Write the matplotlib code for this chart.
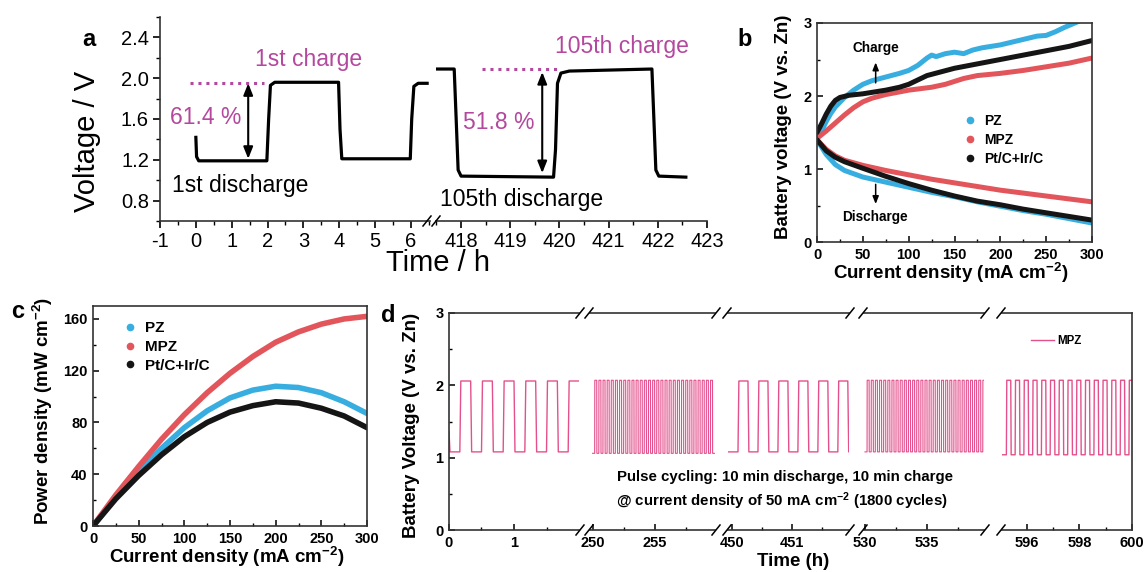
import numpy as np
import matplotlib
matplotlib.use('Agg')
import matplotlib.pyplot as plt
from matplotlib.lines import Line2D
from matplotlib.ticker import AutoMinorLocator, FixedLocator

plt.rcParams['font.family'] = ['Liberation Sans', 'DejaVu Sans']
plt.rcParams['mathtext.fontset'] = 'custom'
plt.rcParams['mathtext.rm'] = 'Liberation Sans:bold'
plt.rcParams['mathtext.default'] = 'rm'
plt.rcParams['axes.unicode_minus'] = False

# ---- (a) galvanostatic cycling, 1st and 105th cycle ----
t_first = [0.0, 0.02, 0.08, 1.98, 2.03, 2.08, 2.2, 3.98, 4.02, 4.07, 5.98, 6.02, 6.08, 6.2, 6.45]
v_first = [1.42, 1.23, 1.19, 1.19, 1.6, 1.93, 1.96, 1.96, 1.5, 1.21, 1.21, 1.6, 1.92, 1.95, 1.95]
t_late = [417.5, 417.86, 417.9, 417.94, 418.0, 419.88, 419.92, 419.96, 420.03, 420.2, 421.88, 421.92, 421.96, 422.02, 422.57]
v_late = [2.09, 2.09, 1.6, 1.1, 1.04, 1.03, 1.3, 1.95, 2.05, 2.07, 2.09, 1.6, 1.1, 1.04, 1.03]
eff_first, eff_late = '61.4 %', '51.8 %'

# ---- (b) polarization curves ----
j_pz_ch = [0, 5, 10, 15, 20, 30, 40, 50, 60, 75, 90, 100, 110, 120, 125, 130, 140, 150, 160, 170, 180, 200, 220, 240, 250, 260, 270, 285]
v_pz_ch = [1.42, 1.52, 1.65, 1.76, 1.85, 1.98, 2.08, 2.16, 2.21, 2.26, 2.31, 2.35, 2.42, 2.52, 2.56, 2.54, 2.58, 2.60, 2.58, 2.63, 2.66, 2.70, 2.76, 2.82, 2.83, 2.88, 2.94, 3.02]
j_mpz_ch = [0, 10, 20, 30, 40, 50, 60, 75, 100, 125, 140, 160, 175, 200, 225, 250, 275, 300]
v_mpz_ch = [1.42, 1.52, 1.63, 1.74, 1.84, 1.92, 1.97, 2.02, 2.08, 2.12, 2.16, 2.24, 2.28, 2.31, 2.35, 2.40, 2.45, 2.52]
j_pt_ch = [0, 5, 10, 15, 20, 25, 35, 50, 75, 90, 100, 110, 120, 135, 150, 175, 200, 225, 250, 275, 300]
v_pt_ch = [1.50, 1.62, 1.75, 1.86, 1.94, 1.98, 2.01, 2.03, 2.08, 2.12, 2.16, 2.22, 2.28, 2.33, 2.38, 2.44, 2.50, 2.56, 2.62, 2.68, 2.76]

j_dis = [0, 10, 20, 30, 50, 75, 100, 125, 150, 175, 200, 225, 250, 275, 300]
v_pz_dis = [1.40, 1.20, 1.06, 0.98, 0.89, 0.82, 0.75, 0.68, 0.62, 0.55, 0.49, 0.43, 0.38, 0.32, 0.26]
v_mpz_dis = [1.40, 1.27, 1.18, 1.12, 1.05, 0.98, 0.92, 0.86, 0.81, 0.76, 0.71, 0.67, 0.63, 0.59, 0.55]
v_pt_dis = [1.40, 1.25, 1.16, 1.10, 1.01, 0.90, 0.80, 0.71, 0.63, 0.56, 0.51, 0.45, 0.40, 0.35, 0.30]

# ---- (c) power density ----
j_pow = [0, 25, 50, 75, 100, 125, 150, 175, 200, 225, 250, 275, 300]
p_pz = [0, 22, 42, 60, 76, 89, 99, 105, 108, 107, 103, 96, 87]
p_mpz = [0, 24, 46, 67, 86, 103, 118, 131, 142, 150, 156, 160, 162]
p_pt = [0, 21, 39, 55, 69, 80, 88, 93, 96, 95, 91, 85, 76]

# ---- (d) pulse cycling, 10 min discharge / 10 min charge ----
half_period = 10 / 60
seg_start = [0.0, 249.97, 449.93, 530.0, 595.05]
seg_end = [2.0, 259.8, 451.95, 539.6, 600.0]
seg_v_low = [1.08, 1.06, 1.08, 1.08, 1.04]
seg_v_high = [2.06, 2.07, 2.06, 2.07, 2.07]
seg_xlim = [(0, 2.0), (249.76, 259.84), (449.93, 451.95), (529.92, 539.6), (595.05, 600)]
seg_major = [[0, 1], [250, 255], [450, 451], [530, 535], [596, 598, 600]]
seg_minor = [[0.5, 1.5], [252.5, 257.5], [450.5, 451.5], [532.5, 537.5], [595, 597, 599]]
seg_px = [(449, 579), (590, 715), (728, 849), (864, 984), (1002, 1132)]
v_first_point = 1.36

c_pz, c_mpz, c_pt = '#38aee0', '#e2565b', '#151515'
c_pink = '#e4508c'
c_mag = '#b4489e'

W, H = 1147, 572
fig = plt.figure(figsize=(W / 100, H / 100), dpi=100)


def add_ax(l, t, r, b):
    return fig.add_axes([l / W, 1 - b / H, (r - l) / W, (b - t) / H])


def fxy(x, y):
    return x / W, 1 - y / H


def slash(x, y, lw=1.1):
    (x0, y0), (x1, y1) = fxy(x - 4, y + 5), fxy(x + 4, y - 5)
    fig.add_artist(Line2D([x0, x1], [y0, y1], color='k', lw=lw))


def ftext(x, y, s, **kw):
    fig.text(*fxy(x, y), s, **kw)


# ================= panel a =================
a1 = add_ax(160, 17, 430, 221)
a2 = add_ax(436, 17, 707, 221)
for ax in (a1, a2):
    ax.set_ylim(0.6, 2.6)
    for s in ('top', 'right'):
        ax.spines[s].set_visible(False)
    for s in ('left', 'bottom'):
        ax.spines[s].set_linewidth(1.2)
        ax.spines[s].set_color('#333333')
    ax.tick_params(which='major', direction='out', length=5, width=1.2, labelsize=14.5, pad=3)
    ax.tick_params(which='minor', direction='out', length=3, width=1.0)
    ax.xaxis.set_minor_locator(AutoMinorLocator(2))

a1.plot(t_first, v_first, color='k', lw=2.3, solid_joinstyle='round')
a1.set_xlim(-1, 6.53)
a1.set_xticks(range(-1, 7))
a1.set_yticks([0.8, 1.2, 1.6, 2.0, 2.4])
a1.yaxis.set_minor_locator(AutoMinorLocator(2))
a1.plot([-0.15, 1.9], [1.95, 1.95], color=c_mag, lw=2.2, ls=(0, (1, 1.6)))
a1.annotate('', xy=(1.46, 1.95), xytext=(1.46, 1.21),
            arrowprops=dict(arrowstyle='<|-|>,head_width=0.28,head_length=0.7', color='k', lw=1.5,
                            shrinkA=0, shrinkB=0))
a1.text(1.65, 2.18, '1st charge', color=c_mag, fontsize=16.5, va='center')
a1.text(-0.72, 1.61, eff_first, color=c_mag, fontsize=16.5, va='center')
a1.text(-0.67, 0.95, '1st discharge', color='k', fontsize=16.5, va='center')

a2.plot(t_late, v_late, color='k', lw=2.3, solid_joinstyle='round')
a2.set_xlim(417.49, 423)
a2.set_xticks(range(418, 424))
a2.spines['left'].set_visible(False)
a2.set_yticks([])
a2.plot([418.43, 419.95], [2.087, 2.087], color=c_mag, lw=2.2, ls=(0, (1, 1.6)))
a2.annotate('', xy=(419.65, 2.06), xytext=(419.65, 1.07),
            arrowprops=dict(arrowstyle='<|-|>,head_width=0.28,head_length=0.7', color='k', lw=1.5,
                            shrinkA=0, shrinkB=0))
a2.text(419.91, 2.31, '105th charge', color=c_mag, fontsize=16.5, va='center')
a2.text(418.04, 1.57, eff_late, color=c_mag, fontsize=16.5, va='center')
a2.text(417.57, 0.81, '105th discharge', color='k', fontsize=16.5, va='center')
slash(427, 221)
slash(436, 221)

ftext(87, 141, 'Voltage / V', fontsize=21, rotation=90, ha='center', va='center')
ftext(438, 263, 'Time / h', fontsize=21, ha='center', va='center')
ftext(89, 40, 'a', fontsize=17, fontweight='bold', ha='center', va='center')

# ================= panel b =================
bold_ticks = dict(labelsize=10.5)


def style_box(ax, lw=1.2):
    for s in ax.spines.values():
        s.set_linewidth(lw)
        s.set_color('#333333')
    ax.tick_params(which='major', direction='in', length=4, width=1.1, pad=4, **bold_ticks)
    ax.tick_params(which='minor', direction='in', length=2.5, width=1.0)
    for lab in ax.get_xticklabels() + ax.get_yticklabels():
        lab.set_fontweight('bold')


b = add_ax(817, 23, 1092, 242)
lw_b = 3.6
b.plot(j_pz_ch, v_pz_ch, color=c_pz, lw=lw_b, solid_capstyle='round')
b.plot(j_mpz_ch, v_mpz_ch, color=c_mpz, lw=lw_b, solid_capstyle='round')
b.plot(j_pt_ch, v_pt_ch, color=c_pt, lw=lw_b, solid_capstyle='round')
b.plot(j_dis, v_pz_dis, color=c_pz, lw=lw_b, solid_capstyle='round')
b.plot(j_dis, v_mpz_dis, color=c_mpz, lw=lw_b, solid_capstyle='round')
b.plot(j_dis, v_pt_dis, color=c_pt, lw=lw_b, solid_capstyle='round')
b.set_xlim(0, 300)
b.set_ylim(0, 3)
b.set_xticks(range(0, 301, 50))
b.set_yticks([0, 1, 2, 3])
b.xaxis.set_minor_locator(AutoMinorLocator(2))
b.yaxis.set_minor_locator(AutoMinorLocator(2))
style_box(b)
b.annotate('', xy=(64, 2.46), xytext=(64, 2.18),
           arrowprops=dict(arrowstyle='-|>,head_width=0.18,head_length=0.45', color='k', lw=1.1,
                           shrinkA=0, shrinkB=0))
b.text(64, 2.66, 'Charge', fontsize=9.8, fontweight='bold', ha='center', va='center')
b.annotate('', xy=(64, 0.52), xytext=(64, 0.79),
           arrowprops=dict(arrowstyle='-|>,head_width=0.18,head_length=0.45', color='k', lw=1.1,
                           shrinkA=0, shrinkB=0))
b.text(63, 0.34, 'Discharge', fontsize=9.8, fontweight='bold', ha='center', va='center')
legend_handles = [Line2D([], [], color=c, marker='o', ls='none', ms=4.5) for c in (c_pz, c_mpz, c_pt)]
b.legend(legend_handles, ['PZ', 'MPZ', 'Pt/C+Ir/C'], loc='upper left', bbox_to_anchor=(0.505, 0.615),
         frameon=False, handlelength=1.0, handletextpad=0.5, labelspacing=0.35, borderpad=0,
         prop=dict(size=10, weight='bold'))
ftext(783, 127, 'Battery voltage (V vs. Zn)', fontsize=13.5, fontweight='bold', rotation=90,
      ha='center', va='center')
ftext(951, 273, 'Current density (mA cm$^{-2}$)', fontsize=13.5, fontweight='bold', ha='center', va='center')
ftext(745, 39, 'b', fontsize=17, fontweight='bold', ha='center', va='center')

# ================= panel c =================
c = add_ax(93, 306, 367, 526)
lw_c = 4.0
c.plot(j_pow, p_pz, color=c_pz, lw=lw_c, solid_capstyle='round')
c.plot(j_pow, p_mpz, color=c_mpz, lw=lw_c, solid_capstyle='round')
c.plot(j_pow, p_pt, color=c_pt, lw=lw_c, solid_capstyle='round')
c.set_xlim(0, 300)
c.set_ylim(0, 170)
c.set_xticks(range(0, 301, 50))
c.set_yticks(range(0, 161, 40))
c.xaxis.set_minor_locator(AutoMinorLocator(2))
c.yaxis.set_minor_locator(AutoMinorLocator(2))
style_box(c)
c.legend(legend_handles, ['PZ', 'MPZ', 'Pt/C+Ir/C'], loc='upper left', bbox_to_anchor=(0.08, 0.965),
         frameon=False, handlelength=1.0, handletextpad=0.5, labelspacing=0.3, borderpad=0,
         prop=dict(size=11, weight='bold'))
ftext(43, 411, 'Power density (mW cm$^{-2}$)', fontsize=13.5, fontweight='bold', rotation=90,
      ha='center', va='center')
ftext(227, 557, 'Current density (mA cm$^{-2}$)', fontsize=13.5, fontweight='bold', ha='center', va='center')
ftext(18, 312, 'c', fontsize=17, fontweight='bold', ha='center', va='center')


# ================= panel d =================
def pulse_trace(t0, t1, v_lo, v_hi, ramp, v_init=None):
    t, v = [t0], [v_lo if v_init is None else v_init]
    k = 0
    while t0 + k * half_period < t1:
        level = v_lo if k % 2 == 0 else v_hi
        start = t0 + k * half_period
        end = min(t0 + (k + 1) * half_period, t1)
        t += [min(start + ramp, end), end]
        v += [level, level]
        k += 1
    return t, v


d_axes = []
top_px, bot_px = 313, 530
for i, (l, r) in enumerate(seg_px):
    ax = add_ax(l, top_px, r, bot_px)
    d_axes.append(ax)
    dense = (seg_xlim[i][1] - seg_xlim[i][0]) > 6
    ramp = 0.01 if dense else 0.015
    t, v = pulse_trace(seg_start[i], seg_end[i], seg_v_low[i], seg_v_high[i], ramp,
                       v_first_point if i == 0 else None)
    ax.plot(t, v, color=c_pink, lw=0.8 if dense else 1.0, label='MPZ' if i == 4 else None)
    ax.set_xlim(*seg_xlim[i])
    ax.set_ylim(0, 3)
    ax.xaxis.set_major_locator(FixedLocator(seg_major[i]))
    ax.xaxis.set_minor_locator(FixedLocator(seg_minor[i]))
    for s in ax.spines.values():
        s.set_linewidth(1.2)
        s.set_color('#333333')
    ax.tick_params(which='major', direction='in', length=4, width=1.1, pad=4, labelsize=10.5)
    ax.tick_params(which='minor', direction='in', length=2.5, width=1.0)
    if i > 0:
        ax.spines['left'].set_visible(False)
        ax.tick_params(axis='y', which='both', left=False, labelleft=False)
    else:
        ax.set_yticks([0, 1, 2, 3])
        ax.yaxis.set_minor_locator(AutoMinorLocator(2))
    if i < len(seg_px) - 1:
        ax.spines['right'].set_visible(False)
    for lab in ax.get_xticklabels() + ax.get_yticklabels():
        lab.set_fontweight('bold')

for (l0, r0), (l1, r1) in zip(seg_px[:-1], seg_px[1:]):
    for y in (top_px, bot_px):
        slash(r0 + 1, y)
        slash(l1 - 1, y)

d_axes[-1].legend(loc='center left', bbox_to_anchor=(0.18, 0.87), frameon=False, handlelength=2.0,
                  handletextpad=0.3, borderpad=0, prop=dict(size=8.3, weight='bold'))
ftext(617, 477, 'Pulse cycling: 10 min discharge, 10 min charge', fontsize=10.8, fontweight='bold',
      va='center')
ftext(616, 501, '@ current density of 50 mA cm$^{-2}$ (1800 cycles)', fontsize=10.8, fontweight='bold',
      va='center')
ftext(412, 425, 'Battery Voltage (V vs. Zn)', fontsize=13.5, fontweight='bold', rotation=90,
      ha='center', va='center')
ftext(793, 561, 'Time (h)', fontsize=13.5, fontweight='bold', ha='center', va='center')
ftext(388, 316, 'd', fontsize=17, fontweight='bold', ha='center', va='center')

fig.savefig('out.png', dpi=100)
